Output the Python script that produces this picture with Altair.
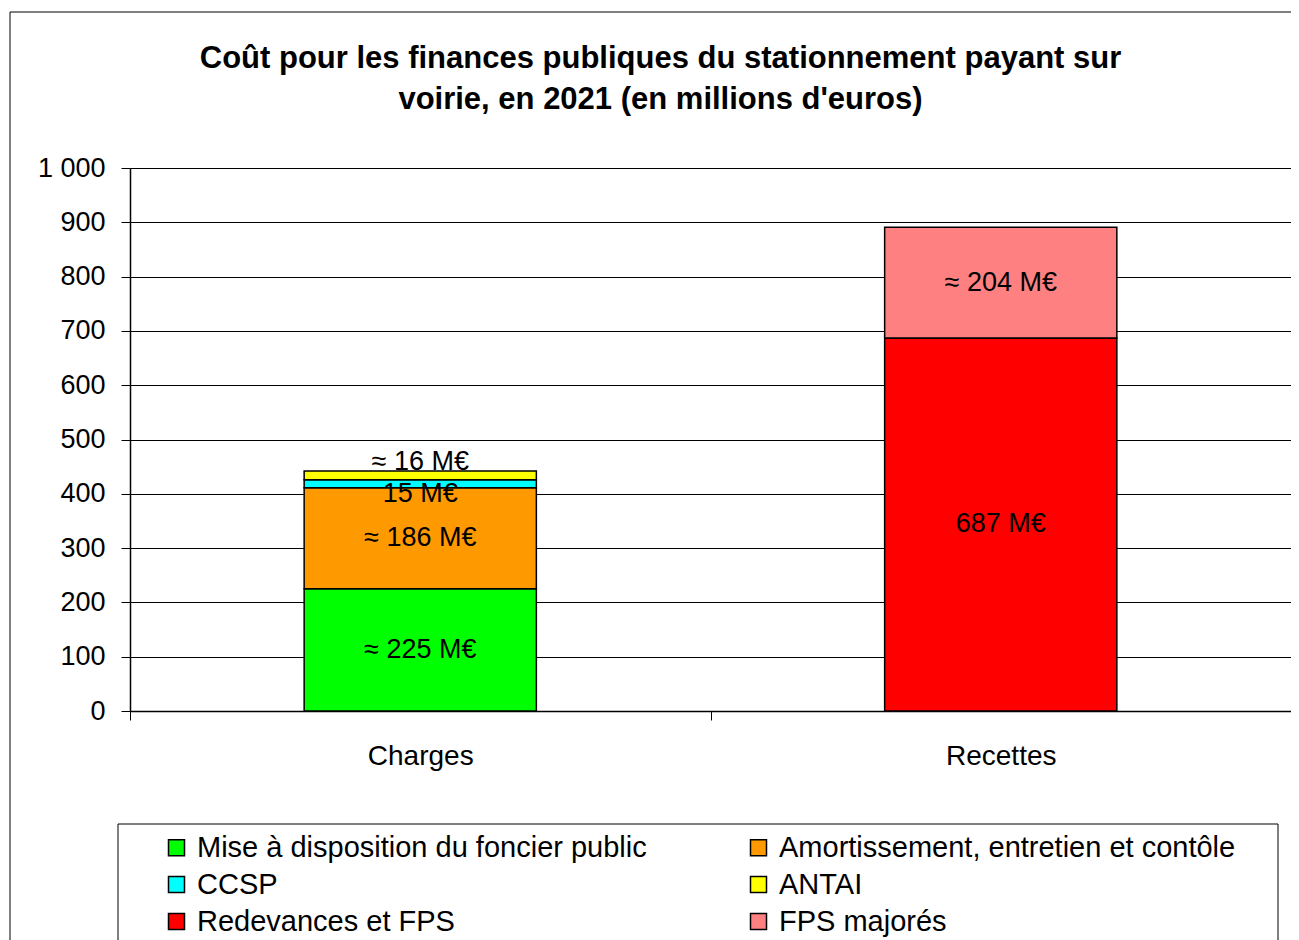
import altair as alt
import pandas as pd

categories = ["Charges", "Charges", "Charges", "Charges", "Recettes", "Recettes"]
segments = [
    "Mise à disposition du foncier public",
    "Amortissement, entretien et contôle",
    "CCSP",
    "ANTAI",
    "Redevances et FPS",
    "FPS majorés",
]
values = [225, 186, 15, 16, 687, 204]
labels = ["≈ 225 M€", "≈ 186 M€", "15 M€", "≈ 16 M€", "687 M€", "≈ 204 M€"]
stack_order = [1, 2, 3, 4, 1, 2]
colors = ["#00FF00", "#FF9900", "#00FFFF", "#FFFF00", "#FF0000", "#FF8080"]
# legend is filled column by column: reorder so rows read as in the reference
legend_order = [0, 2, 4, 1, 3, 5]
y_ticks = list(range(0, 1001, 100))
title_lines = [
    "Coût pour les finances publiques du stationnement payant sur",
    "voirie, en 2021 (en millions d'euros)",
]

FONT = "Liberation Sans"

df = pd.DataFrame({
    "category": categories,
    "segment": segments,
    "value": values,
    "label": labels,
    "order": stack_order,
})

legend_domain = [segments[i] for i in legend_order]
legend_range = [colors[i] for i in legend_order]

x_enc = alt.X(
    "category:N",
    scale=alt.Scale(paddingInner=0, paddingOuter=0),
    axis=alt.Axis(
        title=None, labelAngle=0, tickBand="extent", ticks=True, tickSize=9,
        tickColor="black", domainColor="black", domainWidth=1.5,
        labelFontSize=28, labelFont=FONT, labelColor="black", labelPadding=22,
        grid=False,
    ),
)
y_axis = alt.Axis(
    title=None, values=y_ticks, tickSize=9, tickColor="black",
    domainColor="black", domainWidth=1.5, gridColor="black", gridWidth=1,
    labelFontSize=27, labelFont=FONT, labelColor="black", labelPadding=16,
    labelExpr="replace(format(datum.value, ','), ',', ' ')",
)
y_scale = alt.Scale(domain=[0, 1000])

base = alt.Chart(df).transform_stack(
    stack="value", as_=["v0", "v1"], groupby=["category"],
    sort=[alt.SortField("order", order="ascending")],
).transform_calculate(mid="(datum.v0 + datum.v1) / 2")

bars = base.mark_bar(
    width=alt.RelativeBandSize(0.4), stroke="black", strokeWidth=1.5
).encode(
    x=x_enc,
    y=alt.Y("v0:Q", scale=y_scale, axis=y_axis),
    y2="v1:Q",
    color=alt.Color(
        "segment:N",
        scale=alt.Scale(domain=legend_domain, range=legend_range),
        legend=alt.Legend(
            title=None, orient="none", legendX=32, legendY=665, columns=2,
            columnPadding=97, rowPadding=7, symbolType="square",
            symbolSize=256, symbolStrokeColor="black", symbolStrokeWidth=1.5,
            labelFontSize=29, labelFont=FONT, labelColor="black",
            labelOffset=6, labelLimit=600, symbolOpacity=1,
        ),
    ),
    order=alt.Order("order:Q"),
)

text_common = dict(fontSize=27, font=FONT, color="black")

main_labels = base.transform_filter(
    "datum.segment != 'CCSP' && datum.segment != 'ANTAI'"
).mark_text(**text_common).encode(
    x=x_enc, y=alt.Y("mid:Q", scale=y_scale, axis=y_axis), text="label:N"
)
antai_label = base.transform_filter("datum.segment == 'ANTAI'").mark_text(
    dy=-13, **text_common
).encode(x=x_enc, y=alt.Y("mid:Q", scale=y_scale, axis=y_axis), text="label:N")
ccsp_label = base.transform_filter("datum.segment == 'CCSP'").mark_text(
    dy=10, **text_common
).encode(x=x_enc, y=alt.Y("mid:Q", scale=y_scale, axis=y_axis), text="label:N")

frame_df = pd.DataFrame({"f": [0]})
outer_frame = alt.Chart(frame_df).mark_rect(
    fill=None, fillOpacity=0, stroke="black", strokeWidth=1
).encode(
    x=alt.value(-120), x2=alt.value(1190), y=alt.value(-156), y2=alt.value(840)
)
legend_frame = alt.Chart(frame_df).mark_rect(
    fill=None, fillOpacity=0, stroke="black", strokeWidth=1
).encode(
    x=alt.value(-12), x2=alt.value(1148), y=alt.value(656), y2=alt.value(840)
)

chart = alt.layer(
    outer_frame, legend_frame, bars, main_labels, antai_label, ccsp_label
).properties(
    width=1161,
    height=543,
    padding={"left": 122, "top": 160, "right": 0, "bottom": 240},
    autosize=alt.AutoSizeParams(type="none"),
    title=alt.Title(
        title_lines, fontSize=31, font=FONT, fontWeight="bold", color="black",
        anchor="middle", frame="group", dx=-50, offset=-104, lineHeight=41,
    ),
).configure_view(
    stroke="black", strokeWidth=1.5
).configure(background="white")

chart.save("out.html", embed_options={"renderer": "svg", "actions": False})
